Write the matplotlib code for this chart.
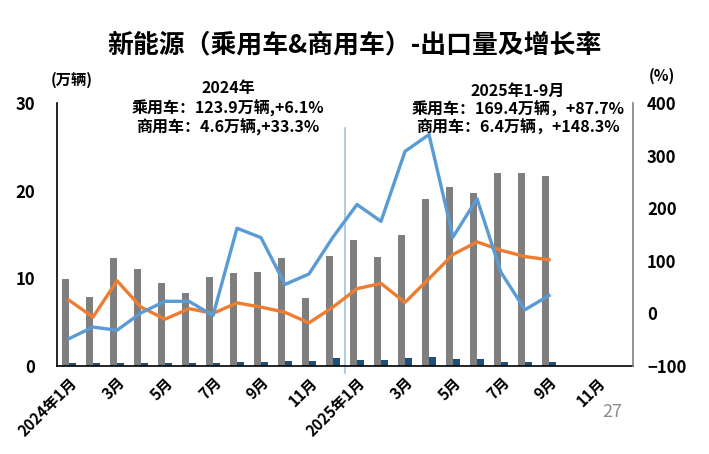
import matplotlib
matplotlib.use("Agg")
import matplotlib.pyplot as plt
import numpy as np

plt.rcParams['font.family'] = ['Noto Sans CJK SC', 'DejaVu Sans']

months = ["2024年1月", "2月", "3月", "4月", "5月", "6月", "7月", "8月", "9月", "10月", "11月", "12月",
          "2025年1月", "2月", "3月", "4月", "5月", "6月", "7月", "8月", "9月", "10月", "11月", "12月"]
tick_labels = ["2024年1月", "3月", "5月", "7月", "9月", "11月",
               "2025年1月", "3月", "5月", "7月", "9月", "11月"]

# 万辆
passenger_vol = [9.9, 7.9, 12.3, 11.1, 9.5, 8.3, 10.1, 10.6, 10.7, 12.3, 7.8, 12.5,
                 14.4, 12.4, 14.9, 19.0, 20.4, 19.7, 22.0, 22.0, 21.7]
commercial_vol = [0.3, 0.3, 0.3, 0.3, 0.35, 0.35, 0.35, 0.45, 0.45, 0.55, 0.55, 0.9,
                  0.7, 0.7, 0.87, 1.0, 0.83, 0.83, 0.5, 0.4, 0.5]
# %
passenger_growth = [25, -7, 62, 12, -11, 9, 0, 20, 12, 2, -18, 12,
                    47, 57, 21, 66, 112, 136, 120, 108, 102]
commercial_growth = [-48, -26, -32, 1, 23, 23, -4, 162, 144, 55, 75, 145,
                     207, 175, 308, 340, 145, 218, 78, 7, 34]

fig = plt.figure(figsize=(7.09, 4.54), dpi=100)
ax = fig.add_axes([57/709, 1-366/454, (633-57)/709, (366-103)/454])
ax2 = ax.twinx()

n = len(months)
x = np.arange(len(passenger_vol))
w = 0.29
ax.bar(x - w/2, passenger_vol, width=w, color='#7f7f7f', zorder=2)
ax.bar(x + w/2, commercial_vol, width=w, color='#1f4e79', zorder=2)

ax2.plot(x, passenger_growth, color='#ed7d31', lw=2.4, zorder=3)
ax2.plot(x, commercial_growth, color='#5b9bd5', lw=2.4, zorder=3)

ax.set_xlim(-0.5, n - 0.5)
ax.set_ylim(0, 30)
ax2.set_ylim(-100, 400)
ax.set_yticks([0, 10, 20, 30])
ax2.set_yticks([-100, 0, 100, 200, 300, 400])
ax.tick_params(axis='y', length=0, labelsize=12, pad=16)
ax2.tick_params(axis='y', length=0, labelsize=12, pad=10)
for t in ax.get_yticklabels() + ax2.get_yticklabels():
    t.set_fontweight('bold')

ax.set_xticks(np.arange(0, n, 2))
ax.set_xticklabels(tick_labels, rotation=45, ha='right', rotation_mode='anchor',
                   fontsize=11, fontweight='bold')
ax.tick_params(axis='x', length=0, pad=6)

for a in (ax, ax2):
    a.spines['top'].set_visible(False)
ax.spines['left'].set_color('black')
ax.spines['bottom'].set_color('black')
ax.spines['right'].set_visible(False)
ax2.spines['left'].set_visible(False)
ax2.spines['bottom'].set_visible(False)
ax2.spines['right'].set_color('#7f7f7f')
ax2.spines['right'].set_linewidth(1.2)
ax.spines['left'].set_linewidth(1.2)
ax.spines['bottom'].set_linewidth(1.2)

ax.axvline(11.5, ymin=-0.027, ymax=0.905, color='#9dc3e6', lw=1.2, clip_on=False, zorder=1)

fig.text(355/709, 1-45/454, "新能源（乘用车&商用车）-出口量及增长率", ha='center', va='center',
         fontsize=18.6, fontweight='bold')
fig.text(72/709, 1-80/454, "(万辆)", ha='center', va='center', fontsize=11, fontweight='bold')
fig.text(662/709, 1-76/454, "(%)", ha='center', va='center', fontsize=11, fontweight='bold')

fig.text(228/709, 1-88/454, "2024年", ha='center', va='center', fontsize=11.5, fontweight='bold')
fig.text(228/709, 1-108/454, "乘用车：123.9万辆,+6.1%", ha='center', va='center', fontsize=11.5, fontweight='bold')
fig.text(228/709, 1-127/454, "商用车：4.6万辆,+33.3%", ha='center', va='center', fontsize=11.5, fontweight='bold')

fig.text(518/709, 1-91/454, "2025年1-9月", ha='center', va='center', fontsize=11.5, fontweight='bold')
fig.text(518/709, 1-110/454, "乘用车：169.4万辆，+87.7%", ha='center', va='center', fontsize=11.5, fontweight='bold')
fig.text(518/709, 1-128/454, "商用车：6.4万辆，+148.3%", ha='center', va='center', fontsize=11.5, fontweight='bold')

fig.text(612/709, 1-412/454, "27", ha='center', va='center', fontsize=13, color='#8c8c8c')

fig.savefig("out.png", dpi=100)
